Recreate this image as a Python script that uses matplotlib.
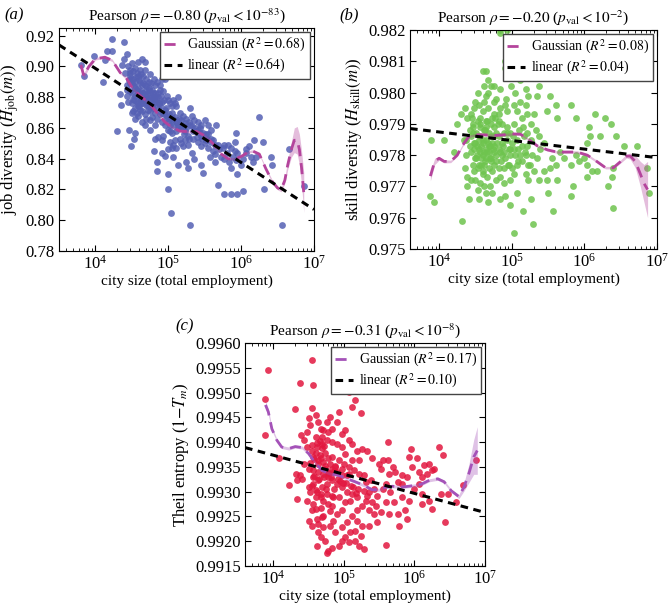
import matplotlib.pyplot as plt
import numpy as np

plt.rcParams['font.family'] = ['Liberation Serif', 'DejaVu Serif']
plt.rcParams['mathtext.fontset'] = 'stix'
plt.rcParams['font.size'] = 11

# ---- panel (a): job diversity (log10 city size, value) ----
size_a = [3.80, 3.84, 3.98, 4.11, 4.13, 4.16, 4.23, 4.39, 4.23, 4.30, 4.35, 4.46, 4.49, 4.53, 4.55, 4.43, 4.45,
          4.39, 4.50, 4.55, 4.41, 4.48, 4.52, 4.59, 4.61, 4.57, 4.43, 4.50, 4.64, 4.68, 4.73, 4.77, 4.82, 4.86,
          4.91, 4.95, 4.66, 4.57, 4.52, 4.61, 4.68, 4.75, 4.82, 4.86, 4.91, 4.95, 5.02, 4.82, 4.70, 4.77, 4.59,
          4.55, 4.82, 4.86, 4.93, 5.00, 5.05, 5.09, 5.14, 5.11, 5.16, 5.20, 5.25, 5.30, 5.32, 5.36, 5.41, 5.45,
          5.50, 5.55, 5.59, 5.66, 5.07, 5.02, 5.11, 5.18, 5.23, 5.27, 5.34, 5.39, 5.45, 5.52, 5.59, 5.64, 5.02,
          5.09, 5.16, 5.05, 5.00, 5.11, 5.20, 5.27, 5.32, 5.25, 5.36, 5.45, 5.55, 5.64, 5.70, 5.77, 5.82, 5.86,
          5.91, 5.93, 5.91, 5.95, 6.02, 6.07, 5.73, 5.77, 5.84, 6.00, 5.95, 5.86, 6.18, 6.25, 6.30, 6.21, 6.41,
          6.43, 6.32, 5.68, 5.77, 5.86, 5.95, 6.02, 4.85, 4.99, 4.99, 5.04, 5.30, 6.56, 6.66, 6.86, 4.91, 4.80,
          4.84, 4.95, 5.07, 5.14, 5.27, 5.45, 5.48, 4.91, 4.82, 4.75, 4.68, 4.64, 4.75, 4.50, 4.57, 4.50, 4.43,
          4.45, 4.68, 4.75, 4.80, 4.61, 4.66, 4.70, 4.57, 4.55, 4.48, 4.59, 4.64, 4.70, 4.75, 4.80, 4.82, 4.89,
          4.84, 4.89, 4.93, 4.98, 5.00, 5.07, 5.09, 5.05, 4.98, 4.91, 4.86, 4.80, 4.73, 4.66, 4.61, 4.55, 4.59,
          4.64, 4.70, 4.77, 4.84, 4.91, 4.95, 5.00, 5.05, 5.14, 5.18, 5.23, 5.30, 5.34, 5.41, 5.23, 5.18, 5.07,
          5.41, 5.48, 5.55, 5.50, 5.57, 5.61, 5.68, 5.75, 5.64, 5.80, 5.89, 5.93, 6.07, 6.14, 6.16, 6.11, 4.68,
          4.64, 4.59, 4.48, 4.36, 4.34,
          4.46, 4.53, 4.60, 4.67, 4.72, 4.79, 4.88, 4.97, 5.03, 5.13, 5.21, 5.29, 4.44, 4.51, 4.58, 4.63, 4.71,
          4.78, 4.87, 4.94, 5.04, 5.12, 5.22, 5.37, 5.43, 5.53, 4.62, 4.69, 4.74, 4.81, 4.88, 4.54, 4.47, 4.63,
          4.47, 4.52, 4.56, 4.60, 4.63, 4.66, 4.70, 4.73, 4.76, 4.79, 4.50, 4.54, 4.58, 4.62, 4.66, 4.69, 4.72,
          4.78, 4.83, 4.87, 4.90, 4.94, 4.97, 5.01, 5.06, 5.10, 5.15, 5.19, 5.24, 5.28, 5.33, 5.38, 5.43, 5.47,
          5.52, 5.58, 5.62, 4.53, 4.60, 4.47]
job_div = [0.901, 0.894, 0.907, 0.890, 0.904, 0.910, 0.918, 0.916, 0.910, 0.858, 0.875, 0.859, 0.848, 0.853,
           0.857, 0.908, 0.900, 0.905, 0.902, 0.899, 0.896, 0.894, 0.892, 0.894, 0.890, 0.885, 0.888, 0.883,
           0.883, 0.888, 0.890, 0.885, 0.888, 0.883, 0.892, 0.892, 0.879, 0.877, 0.871, 0.872, 0.869, 0.871,
           0.877, 0.880, 0.877, 0.872, 0.876, 0.870, 0.875, 0.880, 0.868, 0.866, 0.853, 0.854, 0.855, 0.864,
           0.870, 0.867, 0.880, 0.874, 0.870, 0.868, 0.866, 0.873, 0.868, 0.865, 0.864, 0.862, 0.865, 0.862,
           0.859, 0.862, 0.862, 0.858, 0.858, 0.860, 0.858, 0.855, 0.858, 0.854, 0.855, 0.852, 0.851, 0.849,
           0.851, 0.852, 0.853, 0.847, 0.846, 0.847, 0.848, 0.849, 0.844, 0.838, 0.840, 0.848, 0.847, 0.843,
           0.846, 0.849, 0.849, 0.847, 0.845, 0.857, 0.851, 0.844, 0.840, 0.844, 0.841, 0.840, 0.838, 0.836,
           0.830, 0.834, 0.852, 0.867, 0.851, 0.841, 0.841, 0.836, 0.820, 0.823, 0.817, 0.817, 0.817, 0.819,
           0.832, 0.830, 0.820, 0.805, 0.797, 0.797, 0.846, 0.822, 0.844, 0.845, 0.838, 0.842, 0.841, 0.836,
           0.834, 0.836, 0.831, 0.852, 0.862, 0.859, 0.862, 0.864, 0.865, 0.870, 0.870, 0.876, 0.881, 0.877,
           0.898, 0.895, 0.892, 0.898, 0.894, 0.892, 0.896, 0.890, 0.889, 0.886, 0.888, 0.884, 0.882, 0.880,
           0.883, 0.885, 0.890, 0.888, 0.884, 0.881, 0.878, 0.878, 0.876, 0.874, 0.868, 0.870, 0.873, 0.876,
           0.878, 0.876, 0.880, 0.881, 0.876, 0.871, 0.866, 0.867, 0.866, 0.864, 0.862, 0.859, 0.857, 0.862,
           0.865, 0.863, 0.862, 0.853, 0.851, 0.852, 0.850, 0.849, 0.859, 0.857, 0.856, 0.850, 0.841, 0.845,
           0.849, 0.847, 0.838, 0.844, 0.841, 0.839, 0.846, 0.841, 0.838, 0.848, 0.903, 0.905, 0.903, 0.898,
           0.901, 0.882,
           0.891, 0.887, 0.882, 0.878, 0.874, 0.873, 0.869, 0.866, 0.862, 0.860, 0.856, 0.853, 0.885, 0.879,
           0.874, 0.878, 0.882, 0.878, 0.876, 0.869, 0.866, 0.864, 0.861, 0.860, 0.857, 0.853, 0.884, 0.880,
           0.886, 0.879, 0.874, 0.873, 0.892, 0.876,
           0.896, 0.897, 0.893, 0.891, 0.895, 0.889, 0.887, 0.885, 0.889, 0.883, 0.889, 0.886, 0.882, 0.878,
           0.883, 0.879, 0.872, 0.874, 0.879, 0.876, 0.881, 0.878, 0.873, 0.869, 0.866, 0.864, 0.866, 0.861,
           0.860, 0.864, 0.861, 0.858, 0.860, 0.853, 0.856, 0.853, 0.852, 0.878, 0.874, 0.884]
gauss_a_x = [3.80, 3.84, 3.91, 4.00, 4.13, 4.23, 4.34, 4.43, 4.52, 4.64, 4.75, 4.86, 4.95, 5.05, 5.16, 5.27,
             5.39, 5.50, 5.61, 5.73, 5.82, 5.93, 6.02, 6.10, 6.16, 6.25, 6.34, 6.43, 6.50, 6.55, 6.60, 6.64,
             6.69, 6.73, 6.77, 6.80, 6.83, 6.86]
gauss_a_y = [0.901, 0.894, 0.900, 0.905, 0.906, 0.904, 0.896, 0.892, 0.885, 0.880, 0.8755, 0.869, 0.864,
             0.8605, 0.858, 0.8577, 0.8577, 0.855, 0.850, 0.843, 0.840, 0.840, 0.842, 0.8445, 0.845, 0.843,
             0.8335, 0.825, 0.821, 0.820, 0.826, 0.836, 0.846, 0.852, 0.852, 0.846, 0.834, 0.818]
gauss_a_err = [0.0025, 0.002, 0.001, 0.0008, 0.0008, 0.0008, 0.0008, 0.0008, 0.0008, 0.0008, 0.0008, 0.0008,
               0.0008, 0.0008, 0.0008, 0.0008, 0.0008, 0.0008, 0.0008, 0.0008, 0.0008, 0.0008, 0.0008, 0.0008,
               0.0008, 0.0008, 0.0008, 0.001, 0.0012, 0.0015, 0.002, 0.003, 0.005, 0.008, 0.009, 0.010, 0.011,
               0.013]
linear_a_x = [3.50, 7.0]
linear_a_y = [0.9140, 0.8070]

# ---- panel (b): skill diversity ----
size_b = [3.87, 3.93, 3.89, 4.07, 4.20, 4.32, 4.39, 4.41, 4.45, 4.84, 4.93, 4.84, 4.60, 4.65, 4.68, 4.91, 4.91,
          5.03, 5.12, 5.15, 4.62, 4.72, 4.79, 4.99, 5.05, 5.19, 5.37, 5.35, 5.22, 5.53, 5.61, 5.48, 5.62, 5.81,
          5.88, 6.06, 6.15, 6.29, 6.08, 6.04, 6.22, 6.36, 6.43, 6.54, 6.72, 6.86, 6.89, 6.40, 6.38, 6.33, 6.40,
          6.17, 6.04, 6.11, 6.04, 6.00, 5.92, 5.81, 5.88, 5.72, 5.67, 5.61, 5.55, 5.53, 5.62, 5.49, 5.37, 5.44,
          5.50, 5.57, 5.81, 5.85, 5.26, 5.23, 5.19, 5.29, 5.16, 5.03, 5.07, 4.98, 4.91, 4.84, 4.73, 4.68, 4.62,
          4.56, 4.50, 4.55, 4.44, 4.48, 4.53, 4.60, 4.66, 4.73, 4.79, 4.84, 4.89, 4.98, 5.03, 5.07, 5.14, 5.23,
          5.30, 5.35, 5.28, 5.39, 5.44, 5.37, 5.26, 5.21, 5.33, 5.26, 5.16, 5.10, 5.14, 5.21, 5.30, 5.07, 5.03,
          5.12, 5.19, 4.94, 4.91, 4.84, 4.82, 4.75, 4.68, 4.62, 4.55, 4.48, 4.44, 4.39, 4.46, 4.53, 4.60, 4.65,
          4.72, 4.76, 4.81, 4.87, 4.94, 4.98, 5.03, 4.89, 4.82, 4.76, 4.69, 4.62, 4.57, 4.51, 4.44, 4.37, 4.42,
          4.48, 4.55, 4.60, 4.65, 4.69, 4.73, 4.80, 4.87, 4.94, 5.01, 5.07, 5.14, 5.21, 5.03, 4.96, 4.89, 4.82,
          4.76, 4.69, 4.62, 4.55, 4.48, 4.44, 4.51, 4.58, 4.65, 4.72, 4.78, 4.85, 4.91, 4.98, 5.05, 5.11, 5.19,
          4.96, 4.89, 4.82, 4.76, 4.69, 4.62, 4.55, 4.46, 4.50, 4.53, 4.35, 4.30, 4.25, 4.34, 4.37, 4.35, 4.39,
          4.68, 4.75, 4.84, 4.76, 4.65,
          4.58, 4.64, 4.70, 4.52, 4.61, 4.67, 4.74, 4.57, 4.63, 4.71, 4.49, 4.56, 4.66, 4.78, 4.86, 4.95, 5.09,
          5.17, 4.60, 4.70, 4.54, 4.64, 4.43, 4.77, 4.92, 5.00,
          4.47, 4.52, 4.57, 4.61, 4.66, 4.71, 4.75, 4.79, 4.84, 4.88, 4.93, 4.97, 5.02, 4.50, 4.58, 4.63, 4.70,
          4.47, 4.56, 4.64, 4.73, 4.83, 5.08, 5.18, 5.25]
skill_div = [0.9767, 0.9765, 0.9785, 0.9785, 0.9781, 0.9759, 0.9770, 0.9766, 0.9792, 0.9820, 0.9820, 0.9819,
             0.9807, 0.9807, 0.9804, 0.9810, 0.9808, 0.9807, 0.9804, 0.9806, 0.9802, 0.9802, 0.9798, 0.9802,
             0.9800, 0.9801, 0.9802, 0.9799, 0.9799, 0.9799, 0.9796, 0.9794, 0.9792, 0.9796, 0.9792, 0.9789,
             0.9793, 0.9792, 0.9786, 0.9784, 0.9786, 0.9790, 0.9786, 0.9783, 0.9783, 0.9776, 0.9768, 0.9776,
             0.9773, 0.9770, 0.9763, 0.9775, 0.9773, 0.9775, 0.9777, 0.9779, 0.9778, 0.9777, 0.9780, 0.9779,
             0.9781, 0.9777, 0.9779, 0.9776, 0.9772, 0.9772, 0.9772, 0.9775, 0.9768, 0.9762, 0.9767, 0.9770,
             0.9766, 0.9772, 0.9774, 0.9758, 0.9762, 0.9755, 0.9768, 0.9764, 0.9767, 0.9766, 0.9768, 0.9765,
             0.9770, 0.9771, 0.9772, 0.9766, 0.9772, 0.9775, 0.9776, 0.9775, 0.9773, 0.9775, 0.9772, 0.9773,
             0.9771, 0.9772, 0.9774, 0.9777, 0.9778, 0.9777, 0.9775, 0.9779, 0.9780, 0.9782, 0.9784, 0.9786,
             0.9785, 0.9787, 0.9788, 0.9790, 0.9789, 0.9788, 0.9792, 0.9793, 0.9793, 0.9794, 0.9796, 0.9797,
             0.9796, 0.9794, 0.9796, 0.9795, 0.9793, 0.9793, 0.9795, 0.9797, 0.9796, 0.9795, 0.9793, 0.9792,
             0.9789, 0.9791, 0.9794, 0.9791, 0.9790, 0.9789, 0.9790, 0.9790, 0.9789, 0.9787, 0.9790, 0.9787,
             0.9786, 0.9786, 0.9787, 0.9788, 0.9789, 0.9787, 0.9786, 0.9785, 0.9783, 0.9784, 0.9785, 0.9784,
             0.9785, 0.9783, 0.9784, 0.9784, 0.9784, 0.9785, 0.9784, 0.9785, 0.9783, 0.9783, 0.9782, 0.9782,
             0.9781, 0.9782, 0.9781, 0.9781, 0.9781, 0.9782, 0.9782, 0.9781, 0.9779, 0.9779, 0.9779, 0.9778,
             0.9780, 0.9778, 0.9779, 0.9780, 0.9780, 0.9780, 0.9780, 0.9777, 0.9776, 0.9776, 0.9777, 0.9776,
             0.9777, 0.9777, 0.9777, 0.9797, 0.9800, 0.9795, 0.9793, 0.9790, 0.9785, 0.9780, 0.9776, 0.9773,
             0.9800, 0.9802, 0.9801, 0.9797, 0.9799,
             0.9783, 0.9782, 0.9783, 0.9780, 0.9780, 0.9784, 0.9782, 0.9786, 0.9788, 0.9779, 0.9784, 0.9790,
             0.9791, 0.9778, 0.9780, 0.9777, 0.9782, 0.9786, 0.9774, 0.9770, 0.9769, 0.9768, 0.9788, 0.9792,
             0.9798, 0.9776,
             0.9787, 0.9783, 0.9781, 0.9785, 0.9781, 0.9786, 0.9783, 0.9787, 0.9781, 0.9783, 0.9787, 0.9782,
             0.9786, 0.9779, 0.9777, 0.9778, 0.9779, 0.9790, 0.9792, 0.9789, 0.9792, 0.9791, 0.9778, 0.9781,
             0.9777]
gauss_b_x = [3.88, 3.94, 4.00, 4.07, 4.16, 4.25, 4.32, 4.41, 4.50, 4.62, 4.76, 4.89, 5.01, 5.12, 5.23, 5.35,
             5.49, 5.62, 5.76, 5.90, 6.04, 6.17, 6.29, 6.40, 6.50, 6.58, 6.63, 6.70, 6.77, 6.82, 6.87]
gauss_b_y = [0.97733, 0.9778, 0.9779, 0.9778, 0.9778, 0.9780, 0.9783, 0.9786, 0.97865, 0.97865, 0.97863,
             0.97865, 0.97868, 0.97867, 0.9785, 0.9783, 0.97817, 0.9781, 0.9781, 0.9781, 0.9780, 0.9778,
             0.9776, 0.9776, 0.9778, 0.97797, 0.97797, 0.9778, 0.9774, 0.9771, 0.9769]
gauss_b_err = [0.00015, 0.0001, 0.00006, 0.00005, 0.00004, 0.00004, 0.00004, 0.00004, 0.00004, 0.00004,
               0.00004, 0.00004, 0.00004, 0.00004, 0.00004, 0.00004, 0.00004, 0.00004, 0.00004, 0.00004,
               0.00004, 0.00004, 0.00004, 0.00004, 0.00005, 0.00006, 0.0001, 0.0002, 0.0004, 0.0006, 0.0009]
linear_b_x = [3.60, 7.0]
linear_b_y = [0.97885, 0.97792]

# ---- panel (c): Theil entropy ----
size_c = [3.89, 3.93, 3.89, 4.08, 4.22, 4.31, 4.38, 4.50, 4.55, 4.57, 4.32, 4.40, 4.43, 4.48, 4.52, 4.55, 4.60,
          4.64, 4.67, 4.71, 4.76, 4.81, 4.78, 4.83, 4.90, 4.93, 4.97, 5.02, 5.07, 5.12, 5.16, 5.24, 5.07, 5.12,
          5.19, 5.26, 5.33, 5.40, 5.50, 5.62, 5.55, 5.64, 5.73, 5.83, 5.92, 5.95, 6.04, 6.11, 6.06, 6.18, 6.25,
          6.35, 6.40, 6.28, 6.00, 6.11, 6.25, 6.38, 6.47, 6.59, 6.43, 6.69, 6.87, 5.87, 5.76, 5.83, 5.92, 5.71,
          5.59, 5.66, 5.55, 5.59, 5.47, 5.43, 5.36, 5.40, 5.31, 5.26, 5.36, 5.43, 5.52, 5.64, 5.47, 5.36, 5.26,
          5.19, 5.12, 5.16, 5.24, 5.09, 5.02, 4.97, 4.93, 5.16, 5.21, 5.28, 5.59, 4.83, 4.78, 4.76, 5.07, 4.67,
          4.64, 4.71, 4.62, 4.69, 4.64, 4.80, 4.85, 4.90, 4.97, 4.83, 4.78, 4.71, 4.67, 4.57, 4.60, 4.52, 4.50,
          4.57, 4.64, 4.69, 4.76, 4.83, 4.90, 4.97, 5.05, 5.12, 5.19, 5.09, 5.02, 4.93, 4.83, 4.76, 4.78, 4.71,
          4.64, 4.57, 4.50, 4.43, 4.38, 4.33, 4.57, 4.64, 4.71, 4.78, 4.83, 4.93, 5.00, 5.07, 5.14, 5.21, 5.28,
          4.97, 4.90, 4.83, 4.90, 4.83, 4.76, 4.69, 4.62, 4.55, 4.48, 4.69, 4.97, 5.02, 5.12, 5.21, 4.55, 4.50,
          4.55, 4.48, 4.41, 4.33, 4.62, 4.74, 4.88, 4.97, 5.05, 5.19, 5.52, 5.62, 5.69, 5.76, 5.83, 5.90, 5.97,
          6.06, 6.13, 6.21, 6.11, 6.21, 5.90, 5.78, 5.31, 5.38, 5.28,
          4.60, 4.66, 4.73, 4.80, 4.87, 4.62, 4.69, 4.74, 4.52, 4.58, 4.65, 4.72, 4.79, 4.86, 4.95, 5.04, 4.60,
          4.67, 4.55, 4.86, 4.99, 5.10, 5.17, 5.33, 5.45,
          4.58, 4.63, 4.68, 4.73, 4.77, 4.82, 4.88, 4.92, 4.98, 5.03, 5.08, 5.13, 4.55, 4.61, 4.66, 4.72, 4.57,
          4.62, 4.67, 4.75, 4.85, 4.70, 4.80, 4.60, 5.20]
theil = [0.99488, 0.99545, 0.99414, 0.99367, 0.99313, 0.99466, 0.99519, 0.99448, 0.99566, 0.99516, 0.99336,
         0.99414, 0.99404, 0.99421, 0.99434, 0.99468, 0.99454, 0.99441, 0.99427, 0.99424, 0.99441, 0.99451,
         0.99421, 0.99427, 0.99441, 0.99461, 0.99417, 0.99424, 0.99502, 0.99471, 0.99485, 0.99458, 0.99404,
         0.99397, 0.99383, 0.99387, 0.99383, 0.99367, 0.99356, 0.99401, 0.99363, 0.99336, 0.99340, 0.99333,
         0.99370, 0.99387, 0.99367, 0.99329, 0.99316, 0.99336, 0.99343, 0.99390, 0.99373, 0.99346, 0.99306,
         0.99296, 0.99265, 0.99296, 0.99296, 0.99279, 0.99238, 0.99313, 0.99363, 0.99262, 0.99255, 0.99289,
         0.99282, 0.99279, 0.99279, 0.99299, 0.99306, 0.99316, 0.99292, 0.99306, 0.99299, 0.99279, 0.99282,
         0.99272, 0.99262, 0.99255, 0.99258, 0.99255, 0.99238, 0.99231, 0.99231, 0.99241, 0.99251, 0.99221,
         0.99211, 0.99218, 0.99208, 0.99201, 0.99191, 0.99201, 0.99191, 0.99184, 0.99192, 0.99187, 0.99181,
         0.99177, 0.99198, 0.99208, 0.99218, 0.99228, 0.99245, 0.99248, 0.99235, 0.99231, 0.99241, 0.99255,
         0.99262, 0.99272, 0.99275, 0.99282, 0.99268, 0.99275, 0.99289, 0.99299, 0.99309, 0.99316, 0.99323,
         0.99309, 0.99316, 0.99323, 0.99316, 0.99309, 0.99299, 0.99296, 0.99289, 0.99282, 0.99279, 0.99289,
         0.99292, 0.99296, 0.99329, 0.99336, 0.99340, 0.99343, 0.99346, 0.99356, 0.99333, 0.99323, 0.99370,
         0.99363, 0.99360, 0.99367, 0.99370, 0.99363, 0.99356, 0.99350, 0.99343, 0.99336, 0.99333, 0.99333,
         0.99340, 0.99346, 0.99397, 0.99401, 0.99404, 0.99397, 0.99390, 0.99383, 0.99390, 0.99411, 0.99390,
         0.99377, 0.99363, 0.99363, 0.99262, 0.99241, 0.99231, 0.99282, 0.99326, 0.99285, 0.99191, 0.99201,
         0.99218, 0.99228, 0.99238, 0.99262, 0.99346, 0.99363, 0.99350, 0.99319, 0.99316, 0.99329, 0.99350,
         0.99340, 0.99353, 0.99356, 0.99275, 0.99282, 0.99245, 0.99231, 0.99319, 0.99323, 0.99302,
         0.99378, 0.99374, 0.99352, 0.99356, 0.99350, 0.99398, 0.99388, 0.99379, 0.99358, 0.99331, 0.99326,
         0.99330, 0.99338, 0.99342, 0.99322, 0.99334, 0.99303, 0.99296, 0.99312, 0.99306, 0.99318, 0.99311,
         0.99298, 0.99291, 0.99272,
         0.99365, 0.99355, 0.99368, 0.99345, 0.99338, 0.99330, 0.99352, 0.99325, 0.99345, 0.99318, 0.99335,
         0.99310, 0.99395, 0.99410, 0.99402, 0.99393, 0.99330, 0.99300, 0.99290, 0.99305, 0.99290, 0.99250,
         0.99260, 0.99265, 0.99305]
gauss_c_x = [3.89, 3.93, 3.98, 4.05, 4.12, 4.22, 4.31, 4.41, 4.50, 4.60, 4.69, 4.81, 4.93, 5.05, 5.16, 5.28,
             5.40, 5.50, 5.59, 5.69, 5.81, 5.92, 6.02, 6.11, 6.21, 6.33, 6.42, 6.52, 6.63, 6.70, 6.77, 6.84, 6.89]
gauss_c_y = [0.99475, 0.99461, 0.99427, 0.99404, 0.99390, 0.99387, 0.99391, 0.99389, 0.99377, 0.99357, 0.99343,
             0.99336, 0.99333, 0.99326, 0.99320, 0.99313, 0.99304, 0.99304, 0.99309, 0.99311, 0.99309, 0.99311,
             0.99313, 0.99316, 0.99323, 0.99326, 0.99320, 0.99302, 0.99290, 0.99309, 0.99336, 0.99370, 0.99383]
gauss_c_err = [0.00008, 0.00006, 0.00004, 0.00003, 0.00003, 0.00003, 0.00003, 0.00003, 0.00003, 0.00003,
               0.00003, 0.00003, 0.00003, 0.00003, 0.00003, 0.00003, 0.00003, 0.00003, 0.00003, 0.00003,
               0.00003, 0.00003, 0.00003, 0.00003, 0.00003, 0.00003, 0.00003, 0.00003, 0.00004, 0.00008,
               0.00018, 0.00035, 0.00048]
linear_c_x = [3.60, 7.0]
linear_c_y = [0.99389, 0.99258]

panels = [
    dict(tag='(a)', pos=[0.0883, 0.5858, 0.3817, 0.368], x=size_a, y=job_div, color='#5560b4',
         gx=gauss_a_x, gy=gauss_a_y, ge=gauss_a_err, lx=linear_a_x, ly=linear_a_y,
         xlim=(10 ** 3.5, 1e7), ylim=(0.78, 0.925), yticks=np.arange(0.78, 0.921, 0.02), yfmt='%.2f',
         gcol='#b4449c', r2=('0.68', '0.64'),
         title=r'Pearson $\rho = -0.80$ ($p_{\mathrm{val}} < 10^{-83}$)',
         ylabel=r'job diversity ($H_{\mathrm{job}}(m)$)', tagpos=(0.006, 0.975)),
    dict(tag='(b)', pos=[0.6138, 0.5891, 0.3698, 0.3614], x=size_b, y=skill_div, color='#6ec44e',
         gx=gauss_b_x, gy=gauss_b_y, ge=gauss_b_err, lx=linear_b_x, ly=linear_b_y,
         xlim=(10 ** 3.6, 1e7), ylim=(0.975, 0.982), yticks=np.arange(0.975, 0.98201, 0.001), yfmt='%.3f',
         gcol='#b4449c', r2=('0.08', '0.04'),
         title=r'Pearson $\rho = -0.20$ ($p_{\mathrm{val}} < 10^{-2}$)',
         ylabel=r'skill diversity ($H_{\mathrm{skill}}(m)$)', tagpos=(0.508, 0.975)),
    dict(tag='(c)', pos=[0.3668, 0.066, 0.3593, 0.368], x=size_c, y=theil, color='#e2173f',
         gx=gauss_c_x, gy=gauss_c_y, ge=gauss_c_err, lx=linear_c_x, ly=linear_c_y,
         xlim=(10 ** 3.6, 1e7), ylim=(0.9915, 0.9960), yticks=np.arange(0.9915, 0.99601, 0.0005), yfmt='%.4f',
         gcol='#a452b8', r2=('0.17', '0.10'),
         title=r'Pearson $\rho = -0.31$ ($p_{\mathrm{val}} < 10^{-8}$)',
         ylabel=r'Theil entropy ($1{-}T_m$)', tagpos=(0.262, 0.462)),
]

fig = plt.figure(figsize=(6.68, 6.06), dpi=100)

for p in panels:
    ax = fig.add_axes(p['pos'])
    ax.scatter(10 ** np.array(p['x']), p['y'], s=24, color=p['color'], alpha=0.85, linewidths=0, zorder=2)

    gx = 10 ** np.array(p['gx'])
    gy = np.array(p['gy'])
    ge = np.array(p['ge'])
    ax.fill_between(gx, gy - ge, gy + ge, color=p['gcol'], alpha=0.35, linewidth=0, zorder=3)
    ax.plot(gx, gy, color=p['gcol'], lw=2, dashes=(4, 2.5), zorder=4,
            label=r'Gaussian ($R^2 = %s$)' % p['r2'][0])
    ax.plot(10 ** np.array(p['lx']), p['ly'], color='black', lw=2.2, dashes=(2.5, 1.8), zorder=5,
            label=r'linear ($R^2 = %s$)' % p['r2'][1])

    ax.set_xscale('log')
    ax.set_xlim(p['xlim'])
    ax.set_ylim(p['ylim'])
    ax.set_yticks(p['yticks'])
    ax.yaxis.set_major_formatter(plt.FormatStrFormatter(p['yfmt']))
    ax.tick_params(which='both', direction='in', top=True, right=True, labelsize=12, pad=3)
    ax.tick_params(which='major', length=4)
    ax.tick_params(which='minor', length=2)
    ax.set_xticks([1e4, 1e5, 1e6, 1e7])
    ax.set_xlabel('city size (total employment)', fontsize=11, labelpad=1)
    ax.set_ylabel(p['ylabel'], fontsize=12, labelpad=3)
    ax.set_title(p['title'], fontsize=11, pad=6)

    leg = ax.legend(loc='upper right', fontsize=10, fancybox=False, framealpha=1, edgecolor='#444444',
                    handlelength=1.3, handletextpad=0.4, borderpad=0.3, labelspacing=0.15, borderaxespad=0.3)
    leg.get_frame().set_linewidth(1.0)

    fig.text(p['tagpos'][0], p['tagpos'][1], p['tag'], fontsize=12, style='italic', ha='left', va='center')

fig.savefig('out.png', dpi=100)
